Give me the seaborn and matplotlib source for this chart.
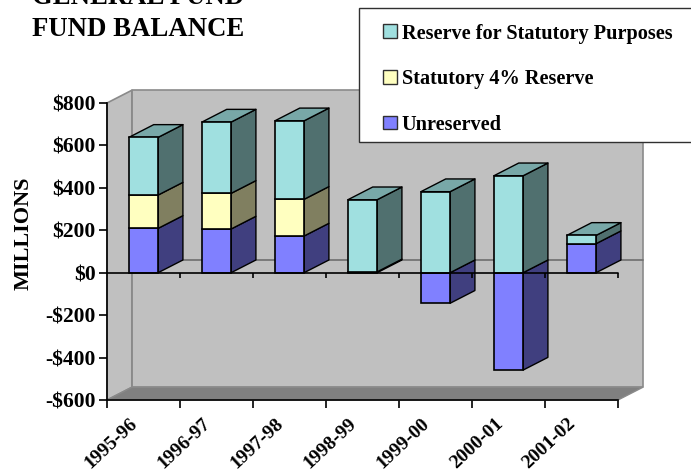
import matplotlib
matplotlib.use("Agg")
import matplotlib.pyplot as plt
from matplotlib.patches import Polygon, Patch, Rectangle
from matplotlib.transforms import ScaledTranslation
import numpy as np
import seaborn as sns

years = ["1995-96", "1996-97", "1997-98", "1998-99", "1999-00", "2000-01", "2001-02"]
unreserved = [209, 206, 173, 4, -144, -459, 137]
statutory = [157, 168, 173, 0, 0, 0, 0]
purposes = [272, 336, 370, 340, 382, 457, 39]

FRONT = {"purposes": "#A0E0E0", "statutory": "#FFFFC0", "unreserved": "#8080FF"}
SIDE = {"purposes": "#50706F", "statutory": "#807F60", "unreserved": "#403F7F"}
TOP = "#78A8A8"
WALL = "#C0C0C0"
FLOOR = "#808080"
EDGE = "#8A8A8A"

# oblique projection offset, in data units
DX, DY = 0.34, 60.0
BAR_W = 0.40

sns.set_theme(style="white")
plt.rcParams["font.family"] = ["Liberation Serif", "DejaVu Serif"]
plt.rcParams["font.weight"] = "bold"

W, H = 691, 474
fig = plt.figure(figsize=(W / 100, H / 100), dpi=100, facecolor="white")
ax = fig.add_axes([107 / W, 1 - 400 / H, 511 / W, 297 / H])
ax.set_facecolor("none")


def quad(pts, face, edge="black", lw=1.0, z=3):
    ax.add_patch(Polygon(pts, closed=True, facecolor=face, edgecolor=edge, linewidth=lw,
                         zorder=z, clip_on=False, joinstyle="round"))


x_lo, x_hi = -0.5, len(years) - 0.5
y_lo, y_hi = -600, 800

# side wall, back wall and floor of the box
quad([(x_lo, y_lo), (x_lo + DX, y_lo + DY), (x_lo + DX, y_hi + DY), (x_lo, y_hi)], WALL, EDGE, 1.2, 0.5)
quad([(x_lo + DX, y_lo + DY), (x_hi + DX, y_lo + DY), (x_hi + DX, y_hi + DY), (x_lo + DX, y_hi + DY)], WALL, EDGE, 1.2, 0.4)
quad([(x_lo, y_lo), (x_hi, y_lo), (x_hi + DX, y_lo + DY), (x_lo + DX, y_lo + DY)], FLOOR, EDGE, 1.0, 0.6)
ax.plot([x_lo + DX, x_hi + DX], [DY, DY], color="#6E6E6E", lw=1.2, zorder=0.7, clip_on=False)

# stacked segments: negative reserves hang below zero
un = np.array(unreserved, float)
st = np.array(statutory, float)
pu = np.array(purposes, float)
base_st = np.clip(un, 0, None)
base_pu = base_st + st

for vals, bottom, key in [(un, np.zeros_like(un), "unreserved"),
                          (st, base_st, "statutory"),
                          (pu, base_pu, "purposes")]:
    keep = vals != 0
    sns.barplot(x=[y for y, k in zip(years, keep) if k], y=vals[keep], order=years, bottom=bottom[keep],
                color=FRONT[key], saturation=1, width=BAR_W,
                edgecolor="black", linewidth=1.2, ax=ax, errorbar=None, zorder=4)
    for i, (v, b) in enumerate(zip(vals, bottom)):
        if v == 0:
            continue
        xr = i + BAR_W / 2
        quad([(xr, b), (xr + DX, b + DY), (xr + DX, b + v + DY), (xr, b + v)], SIDE[key], z=3 + i * 0.01)

tops = base_pu + pu
for i, t in enumerate(tops):
    xl, xr = i - BAR_W / 2, i + BAR_W / 2
    quad([(xl, t), (xr, t), (xr + DX, t + DY), (xl + DX, t + DY)], TOP, z=3.5)

ax.set_xlim(x_lo, x_hi)
ax.set_ylim(y_lo, y_hi)

# axis at zero with its own ticks, plus the frame axis along the bottom
bounds = np.arange(len(years) + 1) - 0.5
ax.plot([x_lo, x_hi], [0, 0], color="black", lw=1.2, zorder=6, clip_on=False)
ax.vlines(bounds[1:], -26, 0, color="black", lw=1.2, zorder=6, clip_on=False)

ax.set_xticks(bounds, minor=True)
ax.set_xticks(range(len(years)))
ax.set_xticklabels(years, rotation=43, ha="right", rotation_mode="anchor", fontsize=14, fontweight="bold", color="black")
ax.tick_params(axis="x", which="minor", length=6, width=1.2, color="black", bottom=True)
ax.tick_params(axis="x", which="major", length=0, pad=11)
nudge = ScaledTranslation(-14 / 100, 0, fig.dpi_scale_trans)
for lab in ax.get_xticklabels():
    lab.set_transform(lab.get_transform() + nudge)

yvals = list(range(-600, 801, 200))
ax.set_yticks(yvals)
ax.set_yticklabels([f"-${-v}" if v < 0 else f"${v}" for v in yvals], fontsize=15.5, fontweight="bold", color="black")
ax.tick_params(axis="y", length=6, width=1.2, color="black", left=True, pad=2)

ax.spines["top"].set_visible(False)
ax.spines["right"].set_visible(False)
for s in ("left", "bottom"):
    ax.spines[s].set_color("black")
    ax.spines[s].set_linewidth(1.2)
    ax.spines[s].set_zorder(6)

ax.set_xlabel("")
ax.set_ylabel("MILLIONS", fontsize=16, fontweight="bold", color="black", va="center")
ax.yaxis.set_label_coords((24 - 107) / 511, (400 - 233) / 297)

fig.text(32 / W, 1 - 36.5 / H, "GENERAL FUND\nFUND BALANCE", fontsize=19.3, fontweight="bold",
         color="black", ha="left", va="baseline", linespacing=1.4)

# white panel behind the key, running off the right edge of the figure
fig.add_artist(Rectangle((358.5 / W, 1 - 142 / H), 340 / W, 134 / H, transform=fig.transFigure,
                         facecolor="white", edgecolor="#303030", linewidth=1.0, zorder=10))
handles = [Patch(facecolor=FRONT[k], edgecolor="#303030", linewidth=1.0)
           for k in ("purposes", "statutory", "unreserved")]
leg = fig.legend(handles, ["Reserve for Statutory Purposes", "Statutory 4% Reserve", "Unreserved"],
                 loc="upper left", bbox_to_anchor=(383 / W, 1 - 23.5 / H), borderaxespad=0,
                 frameon=False, fontsize=14.6, labelspacing=1.26, handlelength=0.68,
                 handleheight=0.68, handletextpad=0.25, borderpad=0, labelcolor="black")
leg.set_zorder(20)

fig.savefig("out.png", dpi=100)
